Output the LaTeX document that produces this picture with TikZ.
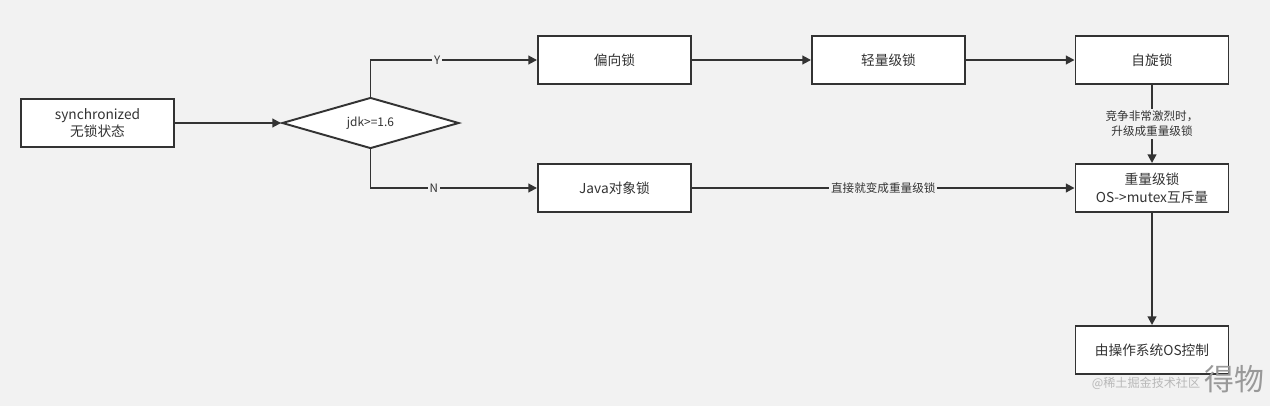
\documentclass[tikz,border=0pt]{standalone}
\usepackage{fontspec}
\setmainfont{Noto Sans CJK SC}
\usepackage{xcolor}
\usepackage{tikz}
\usetikzlibrary{arrows.meta, positioning, shapes.geometric}

\definecolor{bg}{HTML}{F2F2F2}
\definecolor{ln}{HTML}{333333}

\begin{document}
\begin{tikzpicture}[
  x=0.02cm, y=-0.02cm,
  block/.style={draw=ln, fill=white, rectangle, line width=1.1pt, minimum width=153*0.02cm, minimum height=48*0.02cm, align=center, font=\fontsize{7.8}{10}\selectfont, text=ln},
  decision/.style={draw=ln, fill=white, diamond, aspect=3.5, line width=1.1pt, minimum width=177*0.02cm, minimum height=51*0.02cm, inner sep=0pt, font=\fontsize{6.8}{8}\selectfont, text=ln},
  arr/.style={-{Triangle[length=5pt, width=5pt]}, line width=1.1pt, draw=ln},
  lbl/.style={fill=bg, inner sep=1pt, font=\fontsize{6.6}{8.5}\selectfont, text=ln, align=center}
]
\fill[bg] (0,0) rectangle (1270,406);

\node[block] (sync) at (97.5,123) {synchronized\\无锁状态};
\node[decision] (jdk) at (370.5,123) {jdk>=1.6};
\node[block] (bias) at (614.5,60) {偏向锁};
\node[block] (light) at (888.5,60) {轻量级锁};
\node[block] (spin) at (1152,60) {自旋锁};
\node[block] (obj) at (614.5,188) {Java对象锁};
\node[block] (heavy) at (1152,188) {重量级锁\\OS->mutex互斥量};
\node[block] (os) at (1152,350) {由操作系统OS控制};

\draw[arr] (sync) -- (jdk);
\draw[arr] (jdk.north) |- node[lbl, pos=0.7] {Y} (bias);
\draw[arr] (jdk.south) |- node[lbl, pos=0.69] {N} (obj);
\draw[arr] (bias) -- (light);
\draw[arr] (light) -- (spin);
\draw[arr] (spin) -- node[lbl] {竞争非常激烈时，\\升级成重量级锁} (heavy);
\draw[arr] (obj) -- node[lbl] {直接就变成重量级锁} (heavy);
\draw[arr] (heavy) -- (os);

% watermark
\node[text=black!28, font=\fontsize{6.9}{8}\selectfont, inner sep=0pt] (wm) at (1146,383) {@稀土掘金技术社区};
\node[text=black!40, font=\fontsize{17}{19}\selectfont, inner sep=0pt, right=2pt of wm.east, yshift=2pt] (brand) {得物};
\end{tikzpicture}
\end{document}
